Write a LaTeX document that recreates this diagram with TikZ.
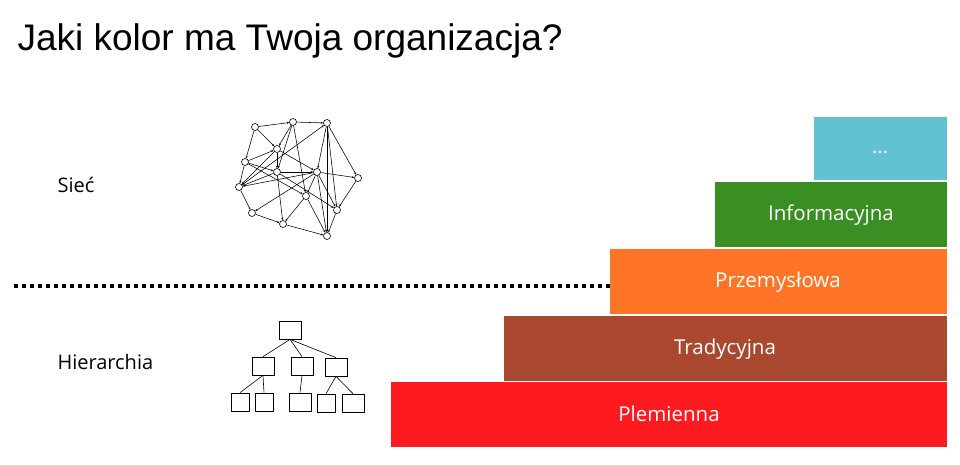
\documentclass[tikz,border=0pt]{standalone}
\usepackage{fontspec}
\setmainfont{Liberation Sans}
\newfontfamily\barfont{Open Sans}
\usetikzlibrary{arrows.meta}
\definecolor{cpl}{HTML}{FF1A1F}
\definecolor{ctr}{HTML}{A9482F}
\definecolor{cpr}{HTML}{FF7426}
\definecolor{cin}{HTML}{3A8F22}
\definecolor{cdo}{HTML}{63C2D2}
\begin{document}
\begin{tikzpicture}[x=1pt,y=-1pt,
 bt/.style={text=white,font=\barfont\fontsize{20.5}{22}\selectfont},
 nd/.style={circle,draw,line width=0.6pt,minimum size=7pt,inner sep=0pt,fill=white},
 ed/.style={line width=0.55pt,-{Stealth[length=2.5pt,width=2pt]}},
 hb/.style={draw,line width=0.7pt,minimum width=22pt,minimum height=18pt,inner sep=0pt},
 hl/.style={line width=0.6pt}]
\useasboundingbox (0,0) rectangle (960,464);
\node[anchor=west,font=\fontsize{37}{40}\selectfont] (title) at (14,41) {Jaki kolor ma Twoja organizacja?};
\node[anchor=west,font=\barfont\fontsize{20}{22}\selectfont] (siec) at (54,185) {Sieć};
\node[anchor=west,font=\barfont\fontsize{20}{22}\selectfont] (hier) at (54,362) {Hierarchia};
\fill[cpl] (391,382) rectangle (947,447);
\fill[ctr] (504,316) rectangle (947,381);
\fill[cpr] (610,249) rectangle (947,314);
\fill[cin] (715,182) rectangle (947,247);
\fill[cdo] (814,117) rectangle (947,180);
\node[bt] (t1) at (669,414) {Plemienna};
\node[bt] (t2) at (725,349) {Tradycyjna};
\node[bt] (t3) at (778,282) {Przemysłowa};
\node[bt] (t4) at (831,215) {Informacyjna};
\node[bt] (t5) at (880,152) {...};
\coordinate (dl) at (14,286);
\coordinate (dr) at (610,286);
\draw[line width=4pt,dash pattern=on 4pt off 4pt] (dl) -- (dr);
% network
\foreach \n/\x/\y in {A/255/127,B/293/122,C/327/123,D/277/149,E/245/162,F/277/172,G/317/172,H/358/178,I/239/187,J/306/196,K/337/210,L/252/213,M/283/224,N/327/236}
  \node[nd] (\n) at (\x,\y) {};
\foreach \a/\b in {A/B,B/C,A/D,B/D,A/E,B/J,C/G,C/N,C/K,C/H,D/F,D/G,E/I,E/F,E/J,E/D,F/G,F/I,F/M,F/K,G/H,G/J,G/K,G/N,G/L,H/K,I/L,I/C,J/M,J/N,K/N,L/M,M/N,B/F,D/I,G/I}
  \draw[ed] (\a) -- (\b);
% hierarchy
\node[hb] (h0) at (290,330) {};
\node[hb] (h1) at (263,366) {};
\node[hb] (h2) at (302,366) {};
\node[hb] (h3) at (336,367) {};
\node[hb,minimum width=18pt] (h4) at (240,402) {};
\node[hb,minimum width=18pt] (h5) at (264,402) {};
\node[hb] (h6) at (300,402) {};
\node[hb,minimum width=18pt] (h7) at (326,403) {};
\node[hb] (h8) at (353,403) {};
\draw[hl] (h0.south) -- (h1.north);
\draw[hl] (h0.south) -- (h2.north);
\draw[hl] (h0.south) -- (h3.north);
\draw[hl] (h1.south) -- (h4.north);
\draw[hl] (h1.south) -- (h5.north);
\draw[hl] (h2.south) -- (h6.north);
\draw[hl] (h3.south) -- (h7.north);
\draw[hl] (h3.south) -- (h8.north);
\end{tikzpicture}
\end{document}
